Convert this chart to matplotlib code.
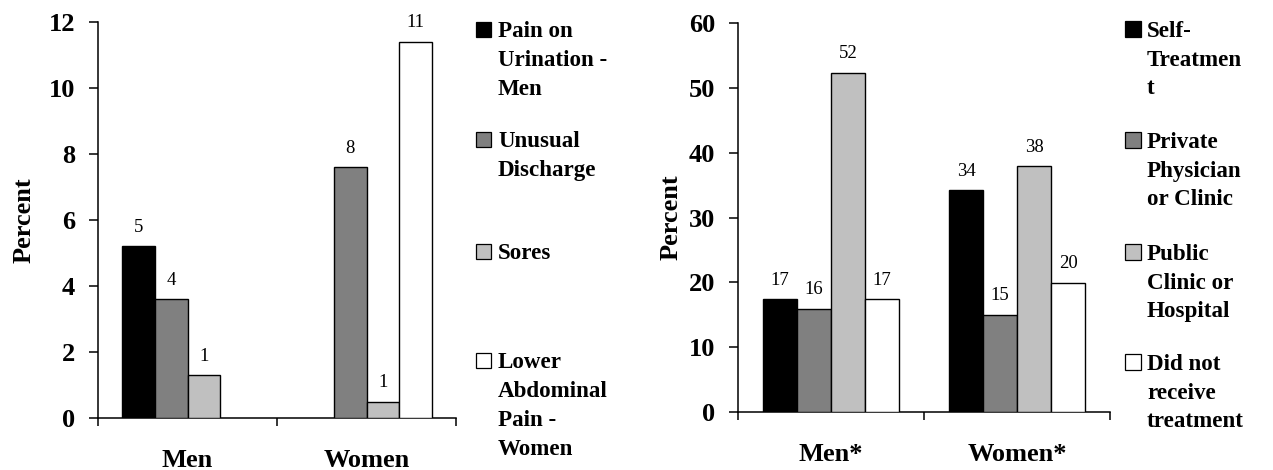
import math
import numpy as np
import matplotlib
matplotlib.use("Agg")
import matplotlib.pyplot as plt
from matplotlib.patches import Rectangle

# ---- data -------------------------------------------------------------
symptom_groups = ["Men", "Women"]
pain_on_urination = [5.2, 0.0]
unusual_discharge = [3.6, 7.6]
sores = [1.3, 0.5]
lower_abdominal_pain = [0.0, 11.4]
symptom_legend = [
    ["Pain on", "Urination -", "Men"],
    ["Unusual", "Discharge"],
    ["Sores"],
    ["Lower", "Abdominal", "Pain -", "Women"],
]
symptom_yticks = [0, 2, 4, 6, 8, 10, 12]

care_groups = ["Men*", "Women*"]
self_treatment = [17.4, 34.2]
private_physician = [15.9, 15.0]
public_clinic = [52.4, 37.9]
no_treatment = [17.4, 19.9]
care_legend = [
    ["Self-", "Treatmen", "t"],
    ["Private", "Physician", "or Clinic"],
    ["Public", "Clinic or", "Hospital"],
    ["Did not", "receive", "treatment"],
]
care_yticks = [0, 10, 20, 30, 40, 50, 60]

fills = ["#000000", "#808080", "#C0C0C0", "#FFFFFF"]

# ---- figure -----------------------------------------------------------
W, H = 1273, 470
fig = plt.figure(figsize=(W / 100, H / 100), dpi=100)
SERIF = ["Liberation Serif", "DejaVu Serif"]


def fx(px):
    return px / W


def fy(py):
    return 1 - py / H


def rounded(v):
    return str(int(math.floor(v + 0.5)))


def draw_panel(ax, groups, series, yticks):
    x = np.arange(len(groups))
    width = 0.183
    for i, (vals, color) in enumerate(zip(series, fills)):
        vals = np.asarray(vals, dtype=float)
        keep = vals > 0
        pos = x[keep] + (i - 1.5) * width
        bars = ax.bar(pos, vals[keep], width=width, color=color,
                      edgecolor="black", linewidth=1.0, zorder=3)
        for rect, v in zip(bars, vals[keep]):
            ax.annotate(rounded(v),
                        (rect.get_x() + rect.get_width() / 2, rect.get_height()),
                        xytext=(0, 10.5), textcoords="offset points",
                        ha="center", va="baseline", fontsize=13.5,
                        family=SERIF)
    ax.set_xlim(-0.5, len(groups) - 0.5)
    ax.set_ylim(yticks[0], yticks[-1])
    ax.set_yticks(yticks)
    ax.set_xticks(x)
    ax.set_xticklabels(groups)
    ax.set_xticks(np.arange(len(groups) + 1) - 0.5, minor=True)
    for side in ("top", "right"):
        ax.spines[side].set_visible(False)
    for side in ("left", "bottom"):
        ax.spines[side].set_linewidth(1.1)
    ax.tick_params(axis="y", direction="out", length=6.5, width=1.1, pad=10,
                   labelsize=19)
    ax.tick_params(axis="x", which="major", length=0, pad=22, labelsize=19)
    ax.tick_params(axis="x", which="minor", direction="out", length=6,
                   width=1.1)
    for lab in ax.get_xticklabels() + ax.get_yticklabels():
        lab.set_fontfamily(SERIF)
        lab.set_fontweight("bold")
    ax.set_ylabel("Percent", fontsize=19, fontweight="bold", family=SERIF,
                  va="center")


def draw_key(labels, sq_left, sq_size, text_left, first_baselines, step):
    for lines, color, base in zip(labels, fills, first_baselines):
        fig.patches.append(Rectangle((fx(sq_left), fy(base)),
                                     sq_size / W, sq_size / H,
                                     transform=fig.transFigure,
                                     facecolor=color, edgecolor="black",
                                     linewidth=0.9))
        for k, line in enumerate(lines):
            fig.text(fx(text_left), fy(base + k * step), line,
                     ha="left", va="baseline", fontsize=16.6,
                     fontweight="bold", family=SERIF)


ax1 = fig.add_axes([fx(98), fy(418), 358 / W, 396 / H])
draw_panel(ax1, symptom_groups,
           [pain_on_urination, unusual_discharge, sores, lower_abdominal_pain],
           symptom_yticks)
ax1.yaxis.set_label_coords((24.5 - 98) / 358, 0.5)

ax2 = fig.add_axes([fx(738), fy(412), 372 / W, 388.7 / H])
draw_panel(ax2, care_groups,
           [self_treatment, private_physician, public_clinic, no_treatment],
           care_yticks)
ax2.yaxis.set_label_coords((671 - 738) / 372, 0.5)

draw_key(symptom_legend, 476, 15, 498, [37, 147, 259, 368], 29)
draw_key(care_legend, 1125, 16, 1147, [37, 148, 260, 370], 28.7)

fig.savefig("out.png", dpi=100)
